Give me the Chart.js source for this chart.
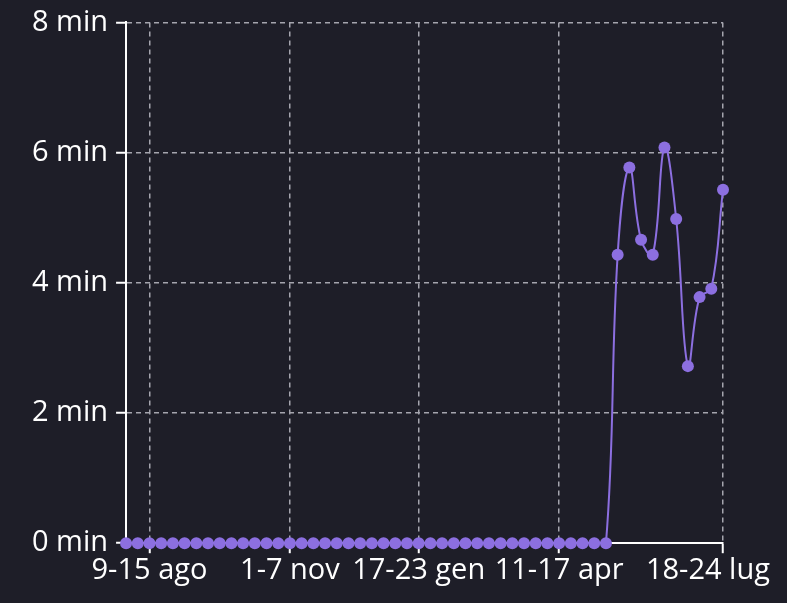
<!DOCTYPE html>
<html>
<head>
<meta charset="utf-8">
<script src="https://cdn.jsdelivr.net/npm/chart.js@4/dist/chart.umd.min.js"></script>
<style>
html,body{margin:0;padding:0;background:#1e1e28;}
#wrap{width:787px;height:603px;position:relative;}
</style>
</head>
<body>
<div id="wrap"><canvas id="c"></canvas></div>
<script>
const weekLabels = [
 "26 lug-1 ago","2-8 ago","9-15 ago","16-22 ago","23-29 ago","30 ago-5 set","6-12 set","13-19 set","20-26 set","27 set-3 ott",
 "4-10 ott","11-17 ott","18-24 ott","25-31 ott","1-7 nov","8-14 nov","15-21 nov","22-28 nov","29 nov-5 dic","6-12 dic",
 "13-19 dic","20-26 dic","27 dic-2 gen","3-9 gen","10-16 gen","17-23 gen","24-30 gen","31 gen-6 feb","7-13 feb","14-20 feb",
 "21-27 feb","28 feb-6 mar","7-13 mar","14-20 mar","21-27 mar","28 mar-3 apr","4-10 apr","11-17 apr","18-24 apr","25 apr-1 mag",
 "2-8 mag","9-15 mag","16-22 mag","23-29 mag","30 mag-5 giu","6-12 giu","13-19 giu","20-26 giu","27 giu-3 lug","4-10 lug",
 "11-17 lug","18-24 lug"
];
const minutesPerWeek = [
 0,0,0,0,0,0,0,0,0,0,
 0,0,0,0,0,0,0,0,0,0,
 0,0,0,0,0,0,0,0,0,0,
 0,0,0,0,0,0,0,0,0,0,
 0,0,4.43,5.77,4.66,4.43,6.08,4.98,2.72,3.78,
 3.91,5.43
];
const shownTickLabels = ["9-15 ago","1-7 nov","17-23 gen","11-17 apr","18-24 lug"];
const yTickValues = [0,2,4,6,8];

const FONT = '"Open Sans", "Noto Sans", sans-serif';
const purple = '#8c6fe0';
const lastLabel = weekLabels[weekLabels.length - 1];

new Chart(document.getElementById('c'), {
  type: 'line',
  data: {
    labels: weekLabels,
    datasets: [{
      data: minutesPerWeek,
      borderColor: purple,
      backgroundColor: purple,
      borderWidth: 2,
      pointRadius: 6,
      pointHoverRadius: 6,
      pointBackgroundColor: purple,
      pointBorderWidth: 0,
      tension: 0.4,
      clip: false
    }]
  },
  options: {
    responsive: true,
    maintainAspectRatio: false,
    animation: false,
    layout: { padding: { top: 0, left: 24, right: 0, bottom: 15 } },
    plugins: { legend: { display: false }, tooltip: { enabled: false } },
    scales: {
      x: {
        afterBuildTicks: (scale) => {
          scale.ticks = scale.ticks.filter(t => shownTickLabels.includes(weekLabels[t.value]));
        },
        afterFit: (scale) => {
          scale.paddingRight = 64;
        },
        ticks: {
          autoSkip: false,
          maxRotation: 0,
          color: '#ffffff',
          font: { family: FONT, size: 29 },
          padding: 0,
          callback: function (v) {
            const lab = this.getLabelForValue(v);
            return lab === lastLabel ? lab + '    ' : lab;
          }
        },
        grid: {
          color: '#a5a5ae',
          lineWidth: 1.5,
          tickColor: '#ffffff',
          tickLength: 10,
          tickWidth: 2
        },
        border: { display: true, color: '#ffffff', width: 2, dash: [5, 4] }
      },
      y: {
        min: 0,
        max: 8,
        afterBuildTicks: (scale) => {
          scale.ticks = yTickValues.map(v => ({ value: v }));
        },
        afterFit: (scale) => {
          scale.paddingTop = Math.max(0, scale.paddingTop - 3);
        },
        ticks: {
          color: '#ffffff',
          font: { family: FONT, size: 29 },
          padding: 8,
          callback: (v) => v + ' min'
        },
        grid: {
          color: '#a5a5ae',
          lineWidth: 1.5,
          tickColor: '#ffffff',
          tickLength: 10,
          tickWidth: 2
        },
        border: { display: true, color: '#ffffff', width: 2, dash: [5, 4] }
      }
    }
  }
});
</script>
</body>
</html>
